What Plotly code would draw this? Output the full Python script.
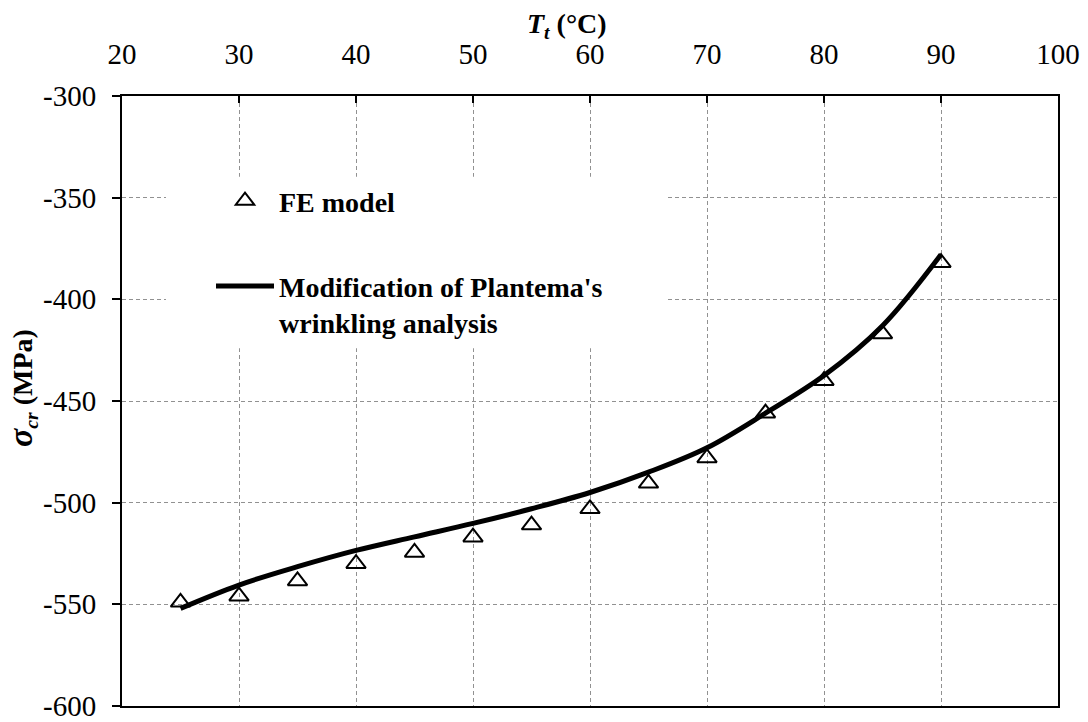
import plotly.graph_objects as go

# Data
temps = [25, 30, 35, 40, 45, 50, 55, 60, 65, 70, 75, 80, 85, 90]
fe_model = [-549, -546, -538.5, -530, -524.5, -517, -511, -503, -490.5, -478, -456, -440, -417, -382]
plantema = [-552, -540.5, -531.5, -523.5, -516.8, -510.2, -503, -495, -485, -473, -456, -437.5, -413, -378]
x_ticks = [20, 30, 40, 50, 60, 70, 80, 90, 100]
y_ticks = [-300, -350, -400, -450, -500, -550, -600]

FONT = "Liberation Serif"

fig = go.Figure()
fig.add_trace(go.Scatter(
    x=temps, y=fe_model, mode="markers", name="<b>FE model</b>",
    legendgroup="a",
    marker=dict(symbol="triangle-up-open", size=17, color="black", line=dict(width=2, color="black")),
))
fig.add_trace(go.Scatter(
    x=temps, y=plantema, mode="lines",
    name="<b>Modification of Plantema's<br>wrinkling analysis</b>",
    legendgroup="b",
    line=dict(color="black", width=5, shape="spline", smoothing=1.0),
))

# white area behind the legend (masks gridlines)
fig.add_shape(type="rect", xref="x", yref="y", x0=23.76, x1=66.5, y0=-424.1, y1=-339.7,
              fillcolor="white", line=dict(width=0), layer="between")

fig.add_annotation(text="<b><i>T<sub>t</sub></i> (°C)</b>", xref="paper", yref="paper",
                   x=(567 - 122) / 936, y=1 + (96 - 25) / 610, showarrow=False,
                   font=dict(family=FONT, size=28, color="black"), xanchor="center", yanchor="middle")
fig.add_annotation(text="<b><i><span style='font-size:34px'>σ</span><sub>cr</sub></i> (MPa)</b>",
                   xref="paper", yref="paper",
                   x=-(122 - 22) / 936, y=(706 - 388) / 610, textangle=-90, showarrow=False,
                   font=dict(family=FONT, size=28, color="black"), xanchor="center", yanchor="middle")

fig.update_xaxes(
    range=[20, 100], side="top", tickvals=x_ticks, ticktext=[str(v) for v in x_ticks],
    showline=True, linecolor="black", linewidth=2, mirror=True, automargin=False,
    ticks="inside", ticklen=7, tickwidth=2, tickcolor="black", ticklabelstandoff=18,
    ticklabeloverflow="allow",
    showgrid=True, gridcolor="#919191", gridwidth=1.3, griddash="4px,3px",
    zeroline=False, tickfont=dict(family=FONT, size=29, color="black"),
)
fig.update_yaxes(
    range=[-600, -300], tickvals=y_ticks, ticktext=[str(v) for v in y_ticks],
    showline=True, linecolor="black", linewidth=2, mirror=True, automargin=False,
    ticks="outside", ticklen=8, tickwidth=2, tickcolor="black", ticklabelstandoff=10,
    ticklabeloverflow="allow",
    showgrid=True, gridcolor="#919191", gridwidth=1.3, griddash="4px,3px",
    zeroline=False, tickfont=dict(family=FONT, size=29, color="black"),
)

fig.update_layout(
    width=1088, height=722,
    margin=dict(l=122, r=30, t=96, b=16),
    paper_bgcolor="white", plot_bgcolor="white",
    showlegend=True,
    legend=dict(x=(211 - 122) / 936, y=1 - (176 - 96) / 610, xanchor="left", yanchor="top",
                bgcolor="rgba(0,0,0,0)", itemwidth=58, tracegroupgap=46, traceorder="grouped",
                valign="top", font=dict(family=FONT, size=28, color="black")),
)

fig.write_html("out.html", config={"displayModeBar": False},
               post_script="document.body.style.margin='0px';")
